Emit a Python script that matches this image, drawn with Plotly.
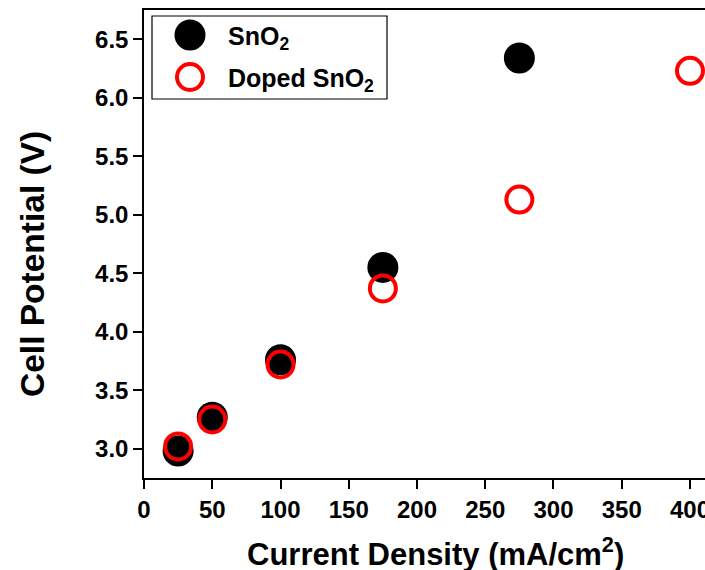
import plotly.graph_objects as go

# Data
current_density = [25, 50, 100, 175, 275]
sno2_potential = [2.98, 3.27, 3.76, 4.55, 6.34]

doped_current_density = [25, 50, 100, 175, 275, 400]
doped_potential = [3.02, 3.25, 3.72, 4.37, 5.13, 6.23]

x_ticks = [0, 50, 100, 150, 200, 250, 300, 350, 400]
y_ticks = [3.0, 3.5, 4.0, 4.5, 5.0, 5.5, 6.0, 6.5]

FONT = "Liberation Sans, Arial, sans-serif"

fig = go.Figure()
fig.add_trace(go.Scatter(
    x=current_density, y=sno2_potential, mode="markers", name="SnO<sub>2</sub>",
    marker=dict(symbol="circle", size=31, color="black", line=dict(width=0)),
))
fig.add_trace(go.Scatter(
    x=doped_current_density, y=doped_potential, mode="markers", name="Doped SnO<sub>2</sub>",
    marker=dict(symbol="circle-open", size=26, color="#ff0000", line=dict(width=4, color="#ff0000")),
))

L, R, T, B = 144, 0, 10, 92
W, H = 705, 570
pw, ph = W - L - R, H - T - B

def px(x):
    return (x - L) / pw

def py(y):
    return (H - B - y) / ph

shapes = [
    dict(type="rect", xref="paper", yref="paper", x0=px(152), x1=px(387), y0=py(99), y1=py(16),
         line=dict(color="black", width=1.2), fillcolor="white", layer="above"),
    dict(type="circle", xref="paper", yref="paper", xsizemode="pixel", ysizemode="pixel",
         xanchor=px(190), yanchor=py(35), x0=-15.5, x1=15.5, y0=-15.5, y1=15.5,
         fillcolor="black", line=dict(width=0), layer="above"),
    dict(type="circle", xref="paper", yref="paper", xsizemode="pixel", ysizemode="pixel",
         xanchor=px(190), yanchor=py(77), x0=-13, x1=13, y0=-13, y1=13,
         fillcolor="rgba(0,0,0,0)", line=dict(width=4, color="#ff0000"), layer="above"),
]
annotations = [
    dict(xref="paper", yref="paper", x=px(226), y=py(38), xanchor="left", yanchor="middle",
         text="<b>SnO<sub>2</sub></b>", showarrow=False, font=dict(size=25, color="black", family=FONT)),
    dict(xref="paper", yref="paper", x=px(226), y=py(80), xanchor="left", yanchor="middle",
         text="<b>Doped SnO<sub>2</sub></b>", showarrow=False, font=dict(size=25, color="black", family=FONT)),
    # axis titles
    dict(xref="paper", yref="paper", x=px(435), y=py(552), xanchor="center", yanchor="middle",
         text="<b>Current Density (mA/cm<sup>2</sup>)</b>", showarrow=False,
         font=dict(size=31, color="black", family=FONT)),
    dict(xref="paper", yref="paper", x=px(32), y=py(264), xanchor="center", yanchor="middle",
         text="<b>Cell Potential (V)</b>", showarrow=False, textangle=-90,
         font=dict(size=33.5, color="black", family=FONT)),
]

fig.update_layout(
    width=W, height=H,
    margin=dict(l=L, r=R, t=T, b=B, autoexpand=False),
    paper_bgcolor="white", plot_bgcolor="white",
    showlegend=False,
    font=dict(family=FONT, color="black"),
    shapes=shapes, annotations=annotations,
)
fig.update_xaxes(
    range=[0, 411], tickvals=x_ticks, ticktext=[f"<b>{v}</b>" for v in x_ticks],
    showgrid=False, zeroline=False, showline=True, linecolor="black", linewidth=1.5, mirror=True,
    ticks="outside", ticklen=9, tickwidth=1.5, tickcolor="black", automargin=False,
    ticklabeloverflow="allow",
    tickfont=dict(size=24, family=FONT, color="black"),
)
fig.update_yaxes(
    range=[2.75, 6.75], tickvals=y_ticks, ticktext=[f"<b>{v:.1f}</b>" for v in y_ticks],
    showgrid=False, zeroline=False, showline=True, linecolor="black", linewidth=1.5, mirror=False,
    ticks="outside", ticklen=9, tickwidth=1.5, tickcolor="black", automargin=False,
    ticklabeloverflow="allow",
    tickfont=dict(size=24, family=FONT, color="black"),
)

fig.write_html(
    "out.html",
    config={"displayModeBar": False},
    post_script="document.body.style.margin='0';document.body.style.overflow='hidden';",
)
